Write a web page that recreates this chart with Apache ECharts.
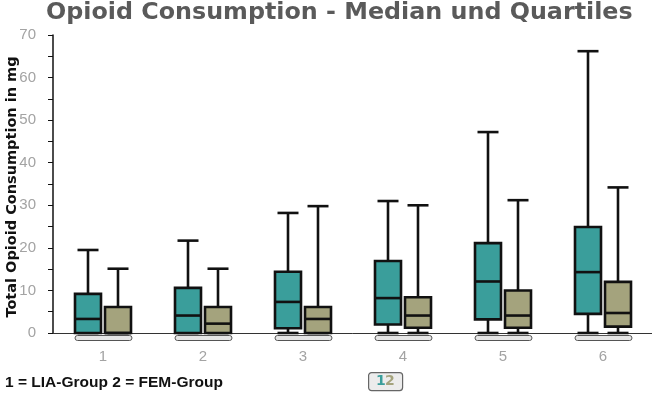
<!DOCTYPE html>
<html><head><meta charset="utf-8">
<script src="https://cdn.jsdelivr.net/npm/echarts@6/dist/echarts.min.js"></script>
<style>html,body{margin:0;padding:0;background:#fff}#c{width:652px;height:397px}</style>
</head><body><div id="c"></div>
<script>
const categories = ['1','2','3','4','5','6'];
const liaLow  = [0, 0, 0, 0, 0, 0];
const liaQ1   = [0, 0, 1.1, 2.0, 3.2, 4.5];
const liaMed  = [3.3, 4.1, 7.3, 8.2, 12.1, 14.3];
const liaQ3   = [9.2, 10.6, 14.4, 16.9, 21.1, 24.9];
const liaHigh = [19.5, 21.7, 28.2, 31, 47.2, 66.2];
const femLow  = [0, 0, 0, 0, 0, 0];
const femQ1   = [0, 0, 0, 1.25, 1.25, 1.5];
const femMed  = [0, 2.2, 3.3, 4.1, 4.1, 4.7];
const femQ3   = [6.1, 6.1, 6.1, 8.4, 10.0, 12.0];
const femHigh = [15.1, 15.1, 29.8, 30, 31.2, 34.2];
const yTicks = [0,10,20,30,40,50,60,70];
const legendText = '1 = LIA-Group 2 = FEM-Group';
const titleText = 'Opioid Consumption - Median und Quartiles';
const yName = 'Total Opioid Consumption in mg';

const TEAL = '#3a9e9b', OLIVE = '#a4a37d';

function mk(low,q1,med,q3,high){ return categories.map((c,i)=>[i,low[i],q1[i],med[i],q3[i],high[i]]); }

function boxRender(offset, color){
  return function(params, api){
    const i = api.value(0);
    const cx = api.coord([i, 0])[0] + offset;
    const yl = api.coord([i, api.value(1)])[1];
    const y1 = api.coord([i, api.value(2)])[1];
    const ym = api.coord([i, api.value(3)])[1];
    const y3 = api.coord([i, api.value(4)])[1];
    const yh = api.coord([i, api.value(5)])[1];
    const bw = 26, cw = 21, lw = 2.6;
    const ls = {stroke:'#111', lineWidth:lw, fill:null};
    const ch = [
      {type:'line', shape:{x1:cx,y1:yh,x2:cx,y2:y3}, style:ls},
      {type:'line', shape:{x1:cx-cw/2,y1:yh,x2:cx+cw/2,y2:yh}, style:ls},
      {type:'line', shape:{x1:cx,y1:y1,x2:cx,y2:yl}, style:ls},
      {type:'line', shape:{x1:cx-cw/2,y1:yl,x2:cx+cw/2,y2:yl}, style:ls},
      {type:'rect', shape:{x:cx-bw/2,y:y3,width:bw,height:y1-y3}, style:{fill:color, stroke:'#111', lineWidth:lw}},
      {type:'line', shape:{x1:cx-bw/2,y1:ym,x2:cx+bw/2,y2:ym}, style:ls}
    ];
    return {type:'group', children:ch};
  };
}

function capsuleRender(params, api){
  const i = api.value(0);
  const cx = api.coord([i, 0])[0];
  const cs = params.coordSys;
  const y = cs.y + cs.height + 5;
  return {type:'rect', shape:{x:cx-28, y:y-2.5, width:57, height:5, r:2.5},
          style:{fill:'#e6e6e6', stroke:'#555', lineWidth:1}};
}

const chart = echarts.init(document.getElementById('c'));
chart.setOption({
  animation:false,
  title:{text:titleText, left:41, top:-4,
    textStyle:{fontFamily:'DejaVu Sans', fontWeight:'bold', fontSize:23.8, color:'#5a5a5a'}},
  grid:{left:53, top:35, width:600, height:298, containLabel:false, outerBoundsMode:'none'},
  xAxis:{type:'category', data:categories, offset:5,
    axisLine:{lineStyle:{color:'#333', width:1}}, axisTick:{show:false},
    axisLabel:{color:'#a3a3a3', fontSize:15, fontFamily:'Liberation Sans, sans-serif', margin:11}},
  yAxis:{type:'value', min:0, max:70, interval:10,
    axisLine:{show:true, lineStyle:{color:'#111', width:1.5}},
    axisTick:{show:true, length:5, lineStyle:{color:'#111'}},
    minorTick:{show:true, splitNumber:2, length:5, lineStyle:{color:'#111'}},
    splitLine:{show:false},
    axisLabel:{color:'#a3a3a3', fontSize:15, fontFamily:'Liberation Sans, sans-serif', margin:17,
      formatter:v=> yTicks.indexOf(v)>=0 ? String(v) : ''}},
  series:[
    {type:'custom', renderItem:capsuleRender, data:categories.map((c,i)=>[i]), clip:false, z:1},
    {type:'custom', name:'1', renderItem:boxRender(-15, TEAL), data:mk(liaLow,liaQ1,liaMed,liaQ3,liaHigh), z:3},
    {type:'custom', name:'2', renderItem:boxRender(15, OLIVE), data:mk(femLow,femQ1,femMed,femQ3,femHigh), z:3}
  ],
  graphic:[
    {type:'text', x:12, y:187, rotation:Math.PI/2, style:{text:yName, fontFamily:'DejaVu Sans', fontWeight:'bold', fontSize:14.5, fill:'#111', align:'center', verticalAlign:'middle'}},
    {type:'text', left:5, top:375, style:{text:legendText, fontFamily:'Liberation Sans, sans-serif', fontWeight:'bold', fontSize:15.5, fill:'#111'}},
    {type:'rect', left:368, top:372, shape:{width:34, height:18, r:3}, style:{fill:'#ececec', stroke:'#666', lineWidth:1.2}},
    {type:'text', left:376, top:374, style:{text:'1', fontFamily:'DejaVu Sans', fontWeight:'bold', fontSize:14, fill:TEAL}},
    {type:'text', left:385, top:374, style:{text:'2', fontFamily:'DejaVu Sans', fontWeight:'bold', fontSize:14, fill:OLIVE}}
  ]
});
</script></body></html>
